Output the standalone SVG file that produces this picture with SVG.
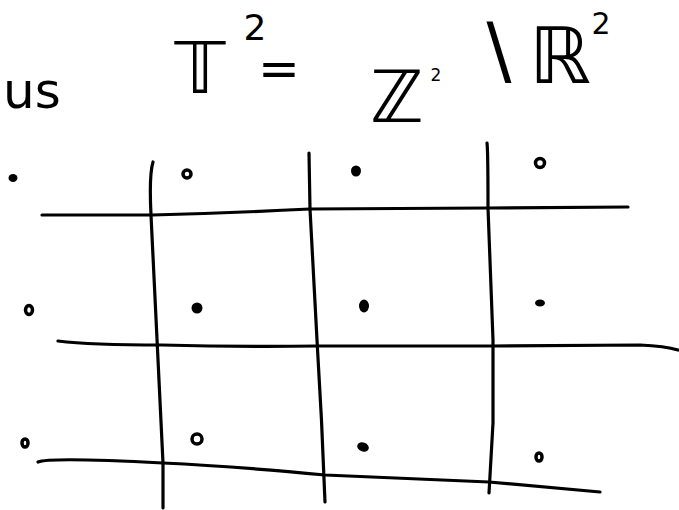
<svg xmlns="http://www.w3.org/2000/svg" width="679" height="510" viewBox="0 0 679 510">
<style>
.ink{fill:none;stroke:#000;stroke-width:3.2;stroke-linecap:round;stroke-linejoin:round}
.t{font-family:"DejaVu Sans","Noto Sans",sans-serif;fill:#000}
.dot{fill:#000}
.ring{fill:#fff;stroke:#000;stroke-width:3.5}
</style>
<rect width="679" height="510" fill="#fff"/>
<g id="title">
<text class="t" x="3" y="108" font-size="50">us</text>
<text class="t" x="200" y="93" font-size="72" text-anchor="middle">𝕋</text>
<text class="t" x="255" y="40" font-size="36" text-anchor="middle">2</text>
<text class="t" x="279" y="86" font-size="50" text-anchor="middle">=</text>
<text class="t" x="397" y="122" font-size="72" text-anchor="middle">ℤ</text>
<text class="t" x="436" y="81" font-size="17" text-anchor="middle">2</text>
<text class="t" x="499" y="76" font-size="74" text-anchor="middle">\</text>
<text class="t" x="560" y="83" font-size="78" text-anchor="middle">ℝ</text>
<text class="t" x="601" y="34" font-size="30" text-anchor="middle">2</text>
</g>
<g id="grid">
<path class="ink" d="M42,215 L152,215 Q230,213 310,209 L488,208 L628,207"/>
<path class="ink" d="M58,341 Q90,345 162,345 Q240,347 317,346 L493,346 L640,345 Q665,346 678,350"/>
<path class="ink" d="M38,462 Q50,457 163,463 Q230,466 325,475 L489,482 L600,492"/>
<path class="ink" d="M153,162 Q149,175 151,215 L163,463 L163,508"/>
<path class="ink" d="M309,153 L310,209 L317,340 Q322,420 325,502"/>
<path class="ink" d="M487,143 Q488,150 488,208 L493,340 L493,423 L489,493"/>
</g>
<g id="points">
<ellipse class="dot" cx="13" cy="178" rx="4.5" ry="4"/>
<circle class="ring" cx="187" cy="174" r="4"/>
<ellipse class="dot" cx="356" cy="171" rx="5" ry="5.5"/>
<circle class="ring" cx="540" cy="163" r="4.5"/>
<ellipse class="ring" cx="29" cy="310" rx="3.5" ry="4.5"/>
<ellipse class="dot" cx="197" cy="308" rx="5.5" ry="5.5"/>
<ellipse class="dot" cx="364" cy="306" rx="5" ry="6.5"/>
<ellipse class="dot" cx="540" cy="303" rx="5" ry="3.5"/>
<ellipse class="ring" cx="25" cy="443" rx="3" ry="4"/>
<circle class="ring" cx="197" cy="439" r="5"/>
<ellipse class="dot" cx="363" cy="447" rx="6" ry="4.5" transform="rotate(20 363 447)"/>
<ellipse class="ring" cx="539" cy="457" rx="3" ry="4"/>
</g>
</svg>
